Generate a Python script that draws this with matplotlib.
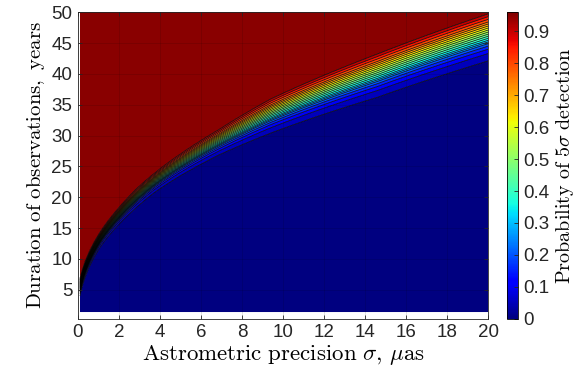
import numpy as np
import matplotlib
matplotlib.use("Agg")
import matplotlib.pyplot as plt
from matplotlib import cm, colors

plt.rcParams['font.family'] = ['Liberation Sans', 'DejaVu Sans']
plt.rcParams['mathtext.fontset'] = 'cm'

### edges of the transition band
sig_pts = [0.1, 1.1, 2.05, 2.9, 3.7, 5.0, 6.9, 9.4, 14.6, 20.0]   # muas
T_top = [6.5, 14.4, 18.5, 21.5, 23.8, 27.0, 31.0, 35.9, 43.2, 49.7]  # p ~ 0.95 line, years
T_bot = [4.0, 12.0, 15.8, 18.5, 20.7, 23.5, 26.9, 30.4, 36.2, 42.1]  # p ~ 0.05 line, years

### probability across the band (0 = lowest line, 1 = top line), read at sigma = 20
t_knots = [-0.15, 0.0, 0.158, 0.25, 0.316, 0.368, 0.447, 0.658, 0.829, 1.0, 1.05]
p_knots = [0.0, 0.05, 0.10, 0.15, 0.20, 0.25, 0.36, 0.60, 0.80, 0.95, 0.96]

levels = [0.05, 0.10, 0.15, 0.20, 0.25, 0.30, 0.35, 0.40, 0.45, 0.50,
          0.55, 0.60, 0.65, 0.70, 0.75, 0.80, 0.85, 0.90, 0.95]
pmax = 0.96
xticks = [0, 2, 4, 6, 8, 10, 12, 14, 16, 18, 20]
yticks = [5, 10, 15, 20, 25, 30, 35, 40, 45, 50]
cticks = [0, 0.1, 0.2, 0.3, 0.4, 0.5, 0.6, 0.7, 0.8, 0.9]

sig = np.linspace(0.1, 20, 500)
T = np.linspace(1.4, 50, 500)
S, TT = np.meshgrid(sig, T)
hi = np.interp(np.sqrt(S), np.sqrt(sig_pts), T_top)
lo = np.interp(np.sqrt(S), np.sqrt(sig_pts), T_bot)
t = (TT - lo) / (hi - lo)
P = np.interp(t, t_knots, p_knots)

fig = plt.figure(figsize=(5.86, 3.8), dpi=100)
ax = fig.add_axes([0.133, 0.161, 0.700, 0.807])
cax = fig.add_axes([0.865, 0.161, 0.0188, 0.807])

cmap = plt.get_cmap('jet')
fill_levels = [0.0] + levels + [1.0]
fill_cols = [cmap(lv / pmax) for lv in fill_levels[:-1]]
ax.contourf(S, TT, P, levels=fill_levels, colors=fill_cols, antialiased=True)
ax.contour(S, TT, P, levels=levels, colors='k', linewidths=0.5)

ax.set_xlim(0, 20)
ax.set_ylim(0.3, 50)
ax.set_xticks(xticks)
ax.set_yticks(yticks)
ax.tick_params(direction='in', top=True, right=True, labelsize=13.5, length=3, width=0.6,
               colors='#262626', pad=4)
ax.grid(True, color='k', alpha=0.15, linewidth=0.5)
ax.set_axisbelow(False)
for sp in ax.spines.values():
    sp.set_linewidth(0.6)
    sp.set_color('#262626')

ax.set_xlabel(r'$\mathrm{Astrometric\ precision}\ \sigma,\!\ \mu\mathrm{as}$', fontsize=16.5, labelpad=1)
ax.set_ylabel(r'$\mathrm{Duration\ of\ observations,\ years}$', fontsize=15, labelpad=3)

sm = cm.ScalarMappable(norm=colors.Normalize(0, pmax), cmap=cmap)
cb = fig.colorbar(sm, cax=cax)
cb.set_ticks(cticks)
cb.ax.set_yticklabels([str(c) if c != 0 else '0' for c in cticks])
cb.ax.tick_params(direction='in', labelsize=13.5, length=3, width=0.6, colors='#262626', pad=4)
cb.outline.set_linewidth(0.6)
cb.set_label(r'$\mathrm{Probability\ of\ 5}\sigma\ \mathrm{detection}$', fontsize=14.5, labelpad=3)

fig.savefig('out.png', dpi=100)
